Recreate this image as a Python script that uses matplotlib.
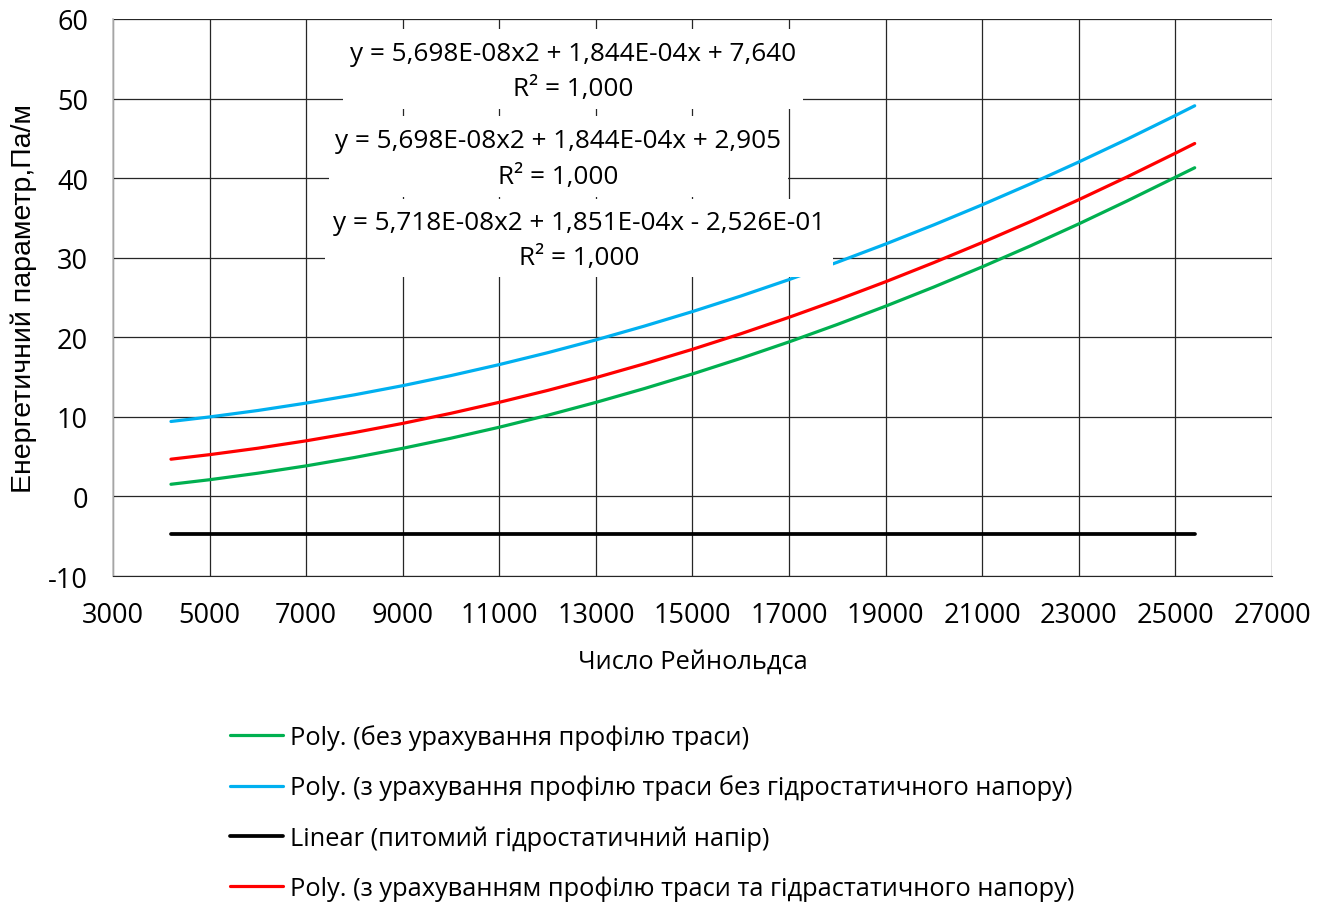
import matplotlib.pyplot as plt
from matplotlib.patches import Rectangle

plt.rcParams['font.family'] = ['Open Sans', 'DejaVu Sans']
plt.rcParams['axes.unicode_minus'] = False

# Reynolds number values where the trend lines were read
re_x = [4200, 5000, 6000, 7000, 8000, 9000, 10000, 11000, 12000, 13000, 14000,
        15000, 16000, 17000, 18000, 19000, 20000, 21000, 22000, 23000, 24000,
        25000, 25400]

# без урахування профілю траси
green_y = [1.53, 2.10, 2.92, 3.84, 4.89, 6.05, 7.32, 8.70, 10.20, 11.82, 13.55,
           15.39, 17.35, 19.42, 21.61, 23.91, 26.32, 28.85, 31.49, 34.25, 37.13,
           40.11, 41.30]
# з урахування профілю траси без гідростатичного напору
blue_y = [9.42, 9.99, 10.80, 11.73, 12.77, 13.92, 15.19, 16.57, 18.06, 19.67, 21.40,
          23.23, 25.18, 27.25, 29.43, 31.72, 34.13, 36.65, 39.28, 42.03, 44.89,
          47.87, 49.09]
# питомий гідростатичний напір
black_x = [4200, 25400]
black_y = [-4.73, -4.73]
# з урахуванням профілю траси та гідростатичного напору
red_y = [4.68, 5.25, 6.06, 6.99, 8.03, 9.18, 10.45, 11.83, 13.32, 14.93, 16.66,
         18.49, 20.44, 22.51, 24.69, 26.98, 29.39, 31.91, 34.54, 37.29, 40.15,
         43.13, 44.35]

labels = ['Poly. (без урахування профілю траси)',
          'Poly. (з урахування профілю траси без гідростатичного напору)',
          'Linear (питомий гідростатичний напір)',
          'Poly. (з урахуванням профілю траси та гідрастатичного напору)']

equations = ['y = 5,698E-08x2 + 1,844E-04x + 7,640\nR² = 1,000',
             'y = 5,698E-08x2 + 1,844E-04x + 2,905\nR² = 1,000',
             'y = 5,718E-08x2 + 1,851E-04x - 2,526E-01\nR² = 1,000']
# label boxes: x0, x1, y0, y1 in data units
eq_boxes = [(7760, 17290, 48.7, 58.7),
            (7470, 16980, 37.6, 47.8),
            (7390, 17910, 27.6, 37.4)]

fig = plt.figure(figsize=(13.28, 9.03), dpi=100)
ax = fig.add_axes([0.0851, 0.361, 0.8727, 0.6169])

ax.plot(re_x, green_y, color='#00B050', lw=2.3, label=labels[0], solid_capstyle='round')
ax.plot(re_x, blue_y, color='#00B0F0', lw=2.3, label=labels[1], solid_capstyle='round')
ax.plot(black_x, black_y, color='black', lw=2.7, label=labels[2], solid_capstyle='round')
ax.plot(re_x, red_y, color='#FF0000', lw=2.3, label=labels[3], solid_capstyle='round')

for (x0, x1, y0, y1), eq in zip(eq_boxes, equations):
    ax.add_patch(Rectangle((x0, y0), x1 - x0, y1 - y0, facecolor='white',
                           edgecolor='none', zorder=3))
    ax.text((x0 + x1) / 2, (y0 + y1) / 2 - 0.25, eq, ha='center', va='center',
            fontsize=18.8, linespacing=1.55, zorder=4)

ax.set_xlim(3000, 27000)
ax.set_ylim(-10, 60)
ax.set_xticks(range(3000, 27001, 2000))
ax.set_yticks(range(-10, 61, 10))
ax.tick_params(length=0, labelsize=19.5)
ax.tick_params(axis='x', pad=18)
ax.tick_params(axis='y', pad=18)
ax.set_axisbelow(True)
ax.grid(True, color='#262626', lw=0.9)
for s in ['top', 'right']:
    ax.spines[s].set_visible(False)
ax.spines['left'].set_color('#BFBFBF')
ax.spines['left'].set_linewidth(1.2)
ax.spines['bottom'].set_color('#262626')

ax.set_xlabel('Число Рейнольдса', fontsize=18.3, labelpad=14)
ax.set_ylabel('Енергетичний параметр,Па/м', fontsize=20.5, labelpad=8,
              family=['Liberation Sans', 'DejaVu Sans'])

fig.legend(loc='upper left', bbox_to_anchor=(0.173, 0.197), frameon=False,
           fontsize=18.3, handlelength=2.1, handletextpad=0.28, labelspacing=0.97,
           borderpad=0, borderaxespad=0)

fig.savefig('out.png', dpi=100)
